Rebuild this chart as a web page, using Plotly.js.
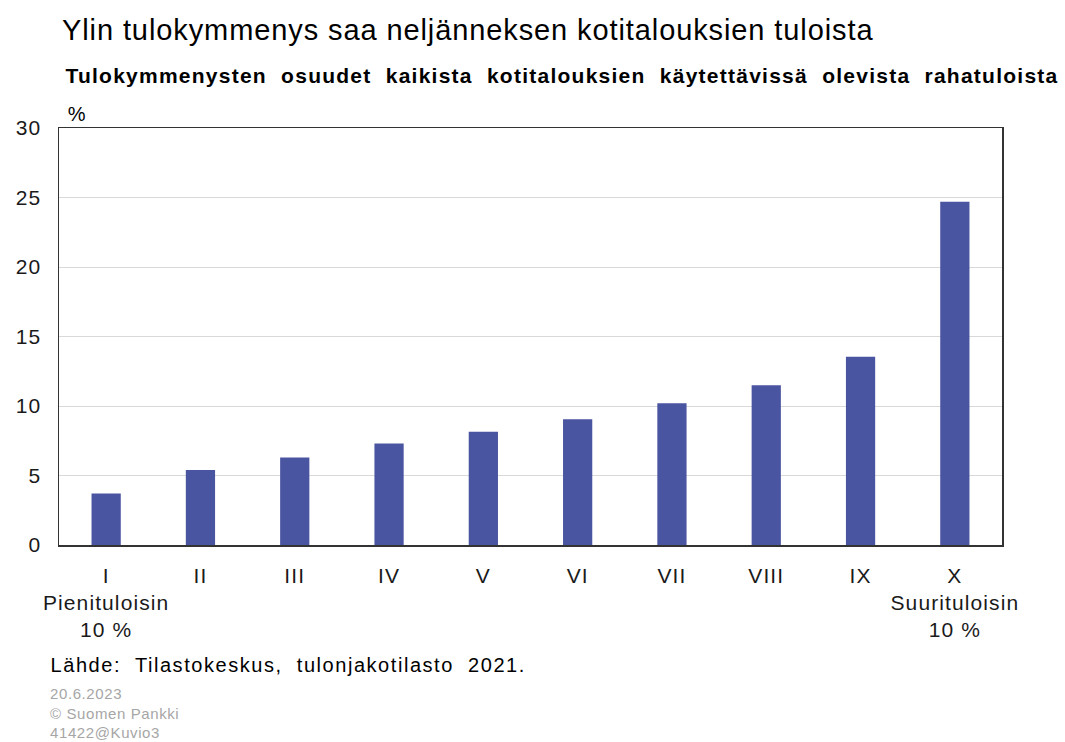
<!DOCTYPE html>
<html>
<head>
<meta charset="utf-8">
<script src="https://cdn.plot.ly/plotly-3.0.1.min.js"></script>
<style>
html,body{margin:0;padding:0;background:#fff;}
#chart{width:1065px;height:742px;}
#chart .gtitle{letter-spacing:0.9px;}
#chart .xtick text, #chart .ytick text{letter-spacing:1.1px;}
#chart .annotation[data-index="0"] text{letter-spacing:0.5px;}
#chart .annotation[data-index="1"] text{letter-spacing:1.55px;}
#chart .annotation[data-index="2"] text{letter-spacing:0.6px;}
#chart .annotation[data-index="3"] text{letter-spacing:1.25px;}
</style>
</head>
<body>
<div id="chart"></div>
<script>
var categories = ["I", "II", "III", "IV", "V", "VI", "VII", "VIII", "IX", "X"];
var tickLabels = ["I<br>Pienituloisin<br>10 %", "II", "III", "IV", "V", "VI", "VII", "VIII", "IX", "X<br>Suurituloisin<br>10 %"];
var shares = [3.7, 5.4, 6.3, 7.3, 8.15, 9.05, 10.2, 11.5, 13.55, 24.7];
var yTicks = [0, 5, 10, 15, 20, 25, 30];

var FONT = "Liberation Sans, Arial, sans-serif";

var trace = {
  type: "bar",
  x: categories,
  y: shares,
  marker: {color: "#4a55a2", line: {width: 0}},
  hoverinfo: "x+y"
};

var layout = {
  width: 1065,
  height: 742,
  margin: {l: 59, r: 63, t: 128, b: 197},
  paper_bgcolor: "#ffffff",
  plot_bgcolor: "#ffffff",
  font: {family: FONT, color: "#000000", size: 21},
  showlegend: false,
  bargap: 0.69,
  xaxis: {
    type: "category",
    tickvals: categories,
    ticktext: tickLabels,
    tickfont: {family: FONT, size: 21, color: "#1a1a1a"},
    ticks: "",
    ticklabelstandoff: 11,
    showline: true,
    linecolor: "#333333",
    linewidth: 1.5,
    mirror: true,
    showgrid: false,
    zeroline: false
  },
  yaxis: {
    range: [0, 30],
    tickvals: yTicks,
    tickfont: {family: FONT, size: 21, color: "#1a1a1a"},
    ticks: "",
    ticklabelstandoff: 12,
    showline: true,
    linecolor: "#333333",
    linewidth: 1.5,
    mirror: true,
    showgrid: true,
    gridcolor: "#d9d9d9",
    gridwidth: 1,
    zeroline: false
  },
  annotations: [
    {xref: "paper", yref: "paper", x: 0, y: 1.0, xanchor: "left", yanchor: "bottom",
     xshift: 7, yshift: 1, text: "%", showarrow: false, font: {family: FONT, size: 20, color: "#000"}},
    {xref: "paper", yref: "paper", x: 0, y: 0, xanchor: "left", yanchor: "middle",
     xshift: 26, yshift: -120, text: "Lähde:&nbsp; Tilastokeskus,&nbsp; tulonjakotilasto&nbsp; 2021.", showarrow: false,
     font: {family: FONT, size: 20, color: "#000"}},
    {xref: "paper", yref: "paper", x: 0, y: 0, xanchor: "left", yanchor: "top",
     xshift: -11, yshift: -138, align: "left",
     text: "20.6.2023<br>© Suomen Pankki<br>41422@Kuvio3", showarrow: false,
     font: {family: FONT, size: 15, color: "#a6a6a6"}},
    {xref: "paper", yref: "paper", x: 0, y: 1, xanchor: "left", yanchor: "middle",
     xshift: 60, yshift: 53,
     text: "<b>Tulokymmenysten&nbsp; osuudet&nbsp; kaikista&nbsp; kotitalouksien&nbsp; käytettävissä&nbsp; olevista&nbsp; rahatuloista</b>",
     showarrow: false, font: {family: FONT, size: 21, color: "#000"}}
  ],
  title: {
    text: "Ylin tulokymmenys saa neljänneksen kotitalouksien tuloista",
    x: 0, xref: "paper", xanchor: "left",
    y: 1 - 30/742, yref: "container", yanchor: "middle",
    pad: {l: 3},
    font: {family: FONT, size: 29, color: "#000"}
  }
};

Plotly.newPlot("chart", [trace], layout, {displayModeBar: false, staticPlot: true});
</script>
</body>
</html>
